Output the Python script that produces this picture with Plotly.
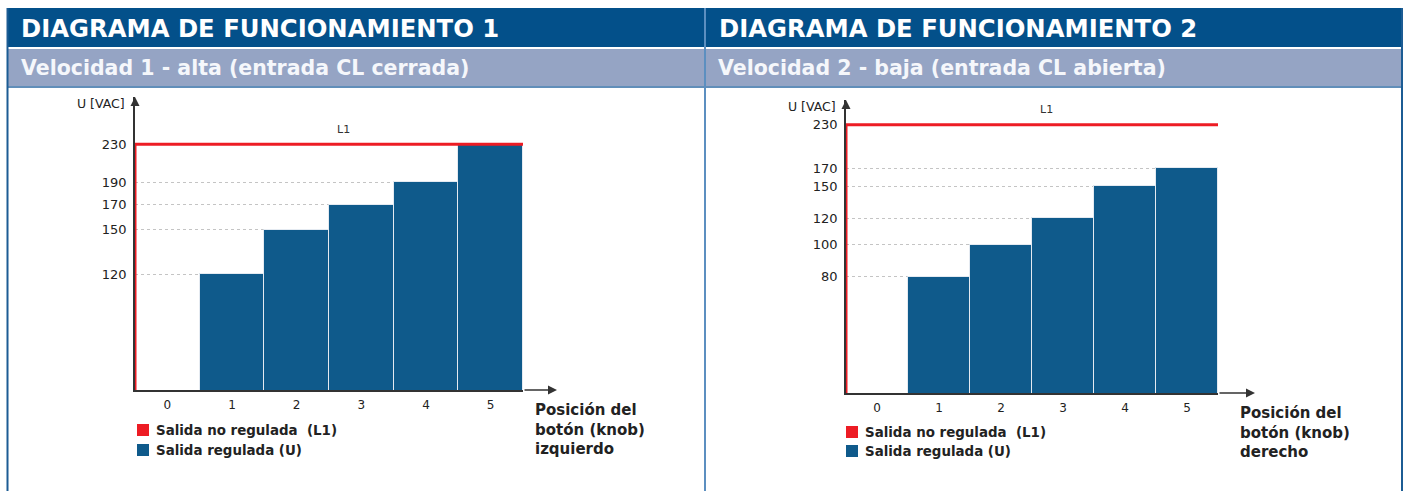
import numpy as np
import plotly.graph_objects as go

# ---------------- data ----------------
positions = [0, 1, 2, 3, 4, 5]
position_labels = ["0", "1", "2", "3", "4", "5"]

# Diagram 1 - high speed (CL input closed)
u_speed1 = [120, 150, 170, 190, 230]          # regulated output at positions 1..5
ticks_speed1 = [120, 150, 170, 190, 230]
# Diagram 2 - low speed (CL input open)
u_speed2 = [80, 100, 120, 150, 170]
ticks_speed2 = [80, 100, 120, 150, 170, 230]

l1_voltage = 230                              # unregulated output (L1)

titles = ["DIAGRAMA DE FUNCIONAMIENTO 1", "DIAGRAMA DE FUNCIONAMIENTO 2"]
subtitles = ["Velocidad 1 - alta (entrada CL cerrada)", "Velocidad 2 - baja (entrada CL abierta)"]
x_titles = ["Posición del<br>botón (knob)<br>izquierdo", "Posición del<br>botón (knob)<br>derecho"]
legend_labels = ["Salida no regulada\u00a0\u00a0(L1)", "Salida regulada (U)"]
y_title = "U [VAC]"

# ---------------- styling ----------------
W, H = 1407, 491
FONT = "DejaVu Sans"
DARK = "#03508A"
LIGHT = "#95A4C4"
BAR = "#0F5A8B"
RED = "#ED1C24"
AXIS = "#333333"
TXT = "#222222"

def px(x):
    return x / W

def py(y):
    return 1 - y / H

# xd: plot area left/right (px), arrow_x: tip of the x-axis arrow (px)
panels = [
    dict(xd=(135, 523), arrow_x=557, yd=(390, 97), yr=[1.8266, 2.4649],
         vals=u_speed1, ticks=ticks_speed1, xa="x", ya="y",
         head_x=19, sub_x=19, leg_x=137, leg_y=(430, 450), xt=(533, 399)),
    dict(xd=(846, 1218), arrow_x=1255, yd=(393, 100), yr=[1.5521, 2.4364],
         vals=u_speed2, ticks=ticks_speed2, xa="x2", ya="y2",
         head_x=717, sub_x=716, leg_x=846, leg_y=(432, 451), xt=(1238, 402)),
]

fig = go.Figure()
shapes = []
annotations = []

# ---- frame / headers ----
shapes += [
    dict(type="rect", xref="paper", yref="paper", x0=px(7), x1=px(1402), y0=py(47), y1=py(8),
         fillcolor=DARK, line=dict(width=0), layer="below"),
    dict(type="rect", xref="paper", yref="paper", x0=px(7), x1=px(1402), y0=py(86), y1=py(49),
         fillcolor=LIGHT, line=dict(width=0), layer="below"),
    dict(type="line", xref="paper", yref="paper", x0=px(7), x1=px(1402), y0=py(87), y1=py(87),
         line=dict(color="#2C68A2", width=1.5)),
    dict(type="line", xref="paper", yref="paper", x0=px(7.5), x1=px(7.5), y0=0, y1=py(8),
         line=dict(color="#1C5C94", width=2)),
    dict(type="line", xref="paper", yref="paper", x0=px(1402), x1=px(1402), y0=0, y1=py(8),
         line=dict(color="#1C5C94", width=2)),
    dict(type="line", xref="paper", yref="paper", x0=px(705), x1=px(705), y0=0, y1=py(8),
         line=dict(color="#5C8FC0", width=2)),
]

x_left = positions[0] - 0.5
x_right = positions[-1] + 0.5

for i, p in enumerate(panels):
    xa, ya = p["xa"], p["ya"]
    ax_key = "xaxis" if xa == "x" else "xaxis2"
    ay_key = "yaxis" if ya == "y" else "yaxis2"

    # regulated output bars (positions 1..5)
    fig.add_trace(go.Bar(
        x=positions[1:], y=p["vals"], xaxis=xa, yaxis=ya, width=1,
        marker=dict(color=BAR, line=dict(color="#E4EAF1", width=1)),
        showlegend=False, hoverinfo="x+y"))

    # unregulated output L1 (constant line across all positions)
    fig.add_trace(go.Scatter(
        x=[x_left, x_left, x_right], y=[10 ** p["yr"][0], l1_voltage, l1_voltage],
        xaxis=xa, yaxis=ya, mode="lines", line=dict(color=RED, width=3),
        cliponaxis=False, showlegend=False, hoverinfo="skip"))

    fig.update_layout(**{
        ax_key: dict(domain=[px(p["xd"][0]), px(p["xd"][1])], range=[x_left, x_right],
                     anchor=ya, tickvals=positions, ticktext=position_labels, ticks="",
                     showgrid=False, zeroline=False, showline=True, linecolor=AXIS,
                     linewidth=1.5, layer="below traces", ticklabelstandoff=3,
                     tickfont=dict(family=FONT, size=12, color=TXT)),
        ay_key: dict(domain=[py(p["yd"][0]), py(p["yd"][1])], type="log", range=p["yr"],
                     anchor=xa, tickvals=p["ticks"], ticktext=[str(t) for t in p["ticks"]],
                     ticks="", showgrid=True, gridcolor="#C4C4C4", griddash="dot",
                     gridwidth=1, zeroline=False, showline=True,
                     linecolor=AXIS, linewidth=1.5, layer="below traces",
                     ticklabelstandoff=4,
                     tickfont=dict(family=FONT, size=13, color=TXT)),
    })

    # x-axis extension with arrowhead
    annotations.append(dict(xref="paper", yref="paper", x=px(p["arrow_x"]), y=py(p["yd"][0]),
                            ax=-(p["arrow_x"] - p["xd"][1]), ay=0, showarrow=True,
                            arrowhead=2, arrowsize=1.2, arrowwidth=1.5,
                            arrowcolor=AXIS, text=""))
    # y-axis arrowhead
    annotations.append(dict(xref=xa, yref=ya, x=x_left, y=p["yr"][1], ax=0, ay=10,
                            showarrow=True, arrowhead=2, arrowsize=1.2, arrowwidth=1.5,
                            arrowcolor=AXIS, text=""))

    # L1 label
    annotations.append(dict(xref=xa, yref=ya, x=2.73, y=float(np.log10(l1_voltage)), yshift=15,
                            text="L1", showarrow=False,
                            font=dict(family=FONT, size=11, color="#333")))
    # y axis title
    annotations.append(dict(xref=xa, yref=ya, x=x_left, y=p["yr"][1], xanchor="right",
                            yanchor="middle", xshift=-8, yshift=-6, text=y_title, showarrow=False,
                            font=dict(family=FONT, size=12.5, color=TXT)))
    # x axis title
    annotations.append(dict(xref="paper", yref="paper", x=px(p["xt"][0]), y=py(p["xt"][1]),
                            xanchor="left", yanchor="top", align="left", text=x_titles[i],
                            showarrow=False, font=dict(family=FONT, size=15, color=TXT,
                                                       weight="bold")))
    # headers
    annotations.append(dict(xref="paper", yref="paper", x=px(p["head_x"]), y=py(28),
                            xanchor="left", yanchor="middle", text=titles[i], showarrow=False,
                            font=dict(family=FONT, size=24.3, color="white", weight="bold")))
    annotations.append(dict(xref="paper", yref="paper", x=px(p["sub_x"]), y=py(68),
                            xanchor="left", yanchor="middle", text=subtitles[i], showarrow=False,
                            font=dict(family=FONT, size=20.5, color="#F5F7FB", weight="bold")))
    # custom legend
    for j, (lab, col) in enumerate(zip(legend_labels, [RED, BAR])):
        yc = p["leg_y"][j]
        shapes.append(dict(type="rect", xref="paper", yref="paper",
                           x0=px(p["leg_x"]), x1=px(p["leg_x"] + 12),
                           y0=py(yc + 6), y1=py(yc - 6), fillcolor=col, line=dict(width=0)))
        annotations.append(dict(xref="paper", yref="paper", x=px(p["leg_x"] + 17), y=py(yc),
                                xanchor="left", yanchor="middle", text=lab, showarrow=False,
                                font=dict(family=FONT, size=13.4, color=TXT, weight="bold")))

fig.update_layout(
    width=W, height=H, margin=dict(l=0, r=0, t=0, b=0),
    paper_bgcolor="white", plot_bgcolor="rgba(0,0,0,0)",
    bargap=0, showlegend=False, shapes=shapes, annotations=annotations,
    font=dict(family=FONT, color=TXT),
)

fig.write_html("out.html", config={"displayModeBar": False},
               post_script="document.body.style.margin='0px';")
